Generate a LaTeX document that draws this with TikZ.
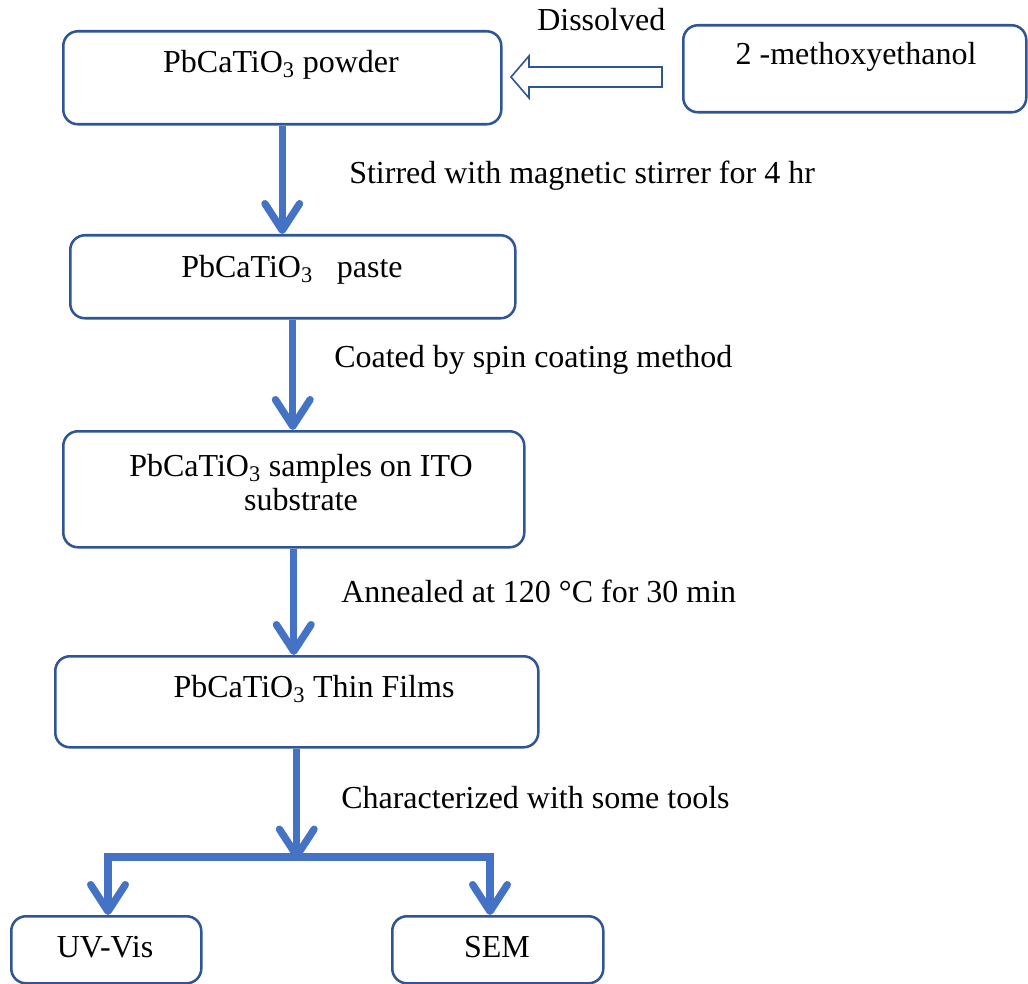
\documentclass[tikz,border=0pt]{standalone}
\usepackage{fontspec}
\setmainfont{Liberation Serif}
\usetikzlibrary{arrows.meta}
\definecolor{flow}{RGB}{68,114,196}
\definecolor{edgeblue}{RGB}{47,85,151}
\begin{document}
\begin{tikzpicture}[x=0.75pt,y=-0.75pt,
  box/.style={draw=edgeblue, line width=1.9pt, rounded corners=11pt, inner sep=0pt, anchor=north west},
  txt/.style={font=\fontsize{24}{25.5}\selectfont, inner sep=0pt, align=center},
  lbl/.style={font=\fontsize{24}{29}\selectfont, inner sep=0pt, anchor=west},
  flowarrow/.style={draw=flow, line width=5.5pt, -{Straight Barb[length=20pt,width=26pt,round]}},
  flowline/.style={draw=flow, line width=5.5pt, line cap=rect}]
\useasboundingbox (0,0) rectangle (1028,984);

% boxes
\node[box, minimum width=328.5pt, minimum height=69.75pt] (b1) at (62,30) {};
\node[box, minimum width=257.25pt, minimum height=65.25pt] (solv) at (682,24) {};
\node[box, minimum width=333.75pt, minimum height=62.25pt] (b2) at (69,234) {};
\node[box, minimum width=345.75pt, minimum height=87pt] (b3) at (62,430) {};
\node[box, minimum width=362.25pt, minimum height=68.25pt] (b4) at (54,655) {};
\node[box, minimum width=142.5pt, minimum height=50.25pt] (uv) at (10,915) {};
\node[box, minimum width=158.25pt, minimum height=50.25pt] (sem) at (391,915) {};

% box texts
\node[txt] (t1) at (281,65) {PbCaTiO\textsubscript{3} powder};
\node[txt] (tsolv) at (856,57) {2 -methoxyethanol};
\node[txt] (t2) at (292,270) {PbCaTiO\textsubscript{3}~~~paste};
\node[txt] (t3) at (301,483) {PbCaTiO\textsubscript{3} samples on ITO\\substrate};
\node[txt] (t4) at (314,689) {PbCaTiO\textsubscript{3} Thin Films};
\node[txt] (tuv) at (105,947) {UV-Vis};
\node[txt] (tsem) at (497,947) {SEM};

% step labels
\node[lbl] (l0) at (537,20) {Dissolved};
\node[lbl] (l1) at (349,176) {Stirred with magnetic stirrer for 4 hr};
\node[lbl] (l2) at (334,360) {Coated by spin coating method};
\node[lbl] (l3) at (341,591) {Annealed at 120 °C for 30 min};
\node[lbl] (l4) at (341,798) {Characterized with some tools};

% hollow block arrow (solvent -> powder)
\draw[edgeblue, line width=1.2pt, fill=white, line join=miter]
  (662,67) -- (529,67) -- (529,56) -- (511,77) -- (529,98) -- (529,87) -- (662,87) -- cycle;

% flow arrows
\draw[flowarrow] (b1.south) -- (b1.south |- b2.north);
\draw[flowarrow] (b2.south) -- (b2.south |- b3.north);
\draw[flowarrow] (b3.south) -- (b3.south |- b4.north);
\path (b4.south) ++(0,111) coordinate (split);
\coordinate (barL) at (108,857);
\coordinate (barR) at (490,857);
\draw[flowarrow] (b4.south) -- (split);
\draw[flowline] (barL) -- (barR);
\draw[flowarrow] (barL) -- (barL |- uv.north);
\draw[flowarrow] (barR) -- (barR |- sem.north);
\end{tikzpicture}
\end{document}
